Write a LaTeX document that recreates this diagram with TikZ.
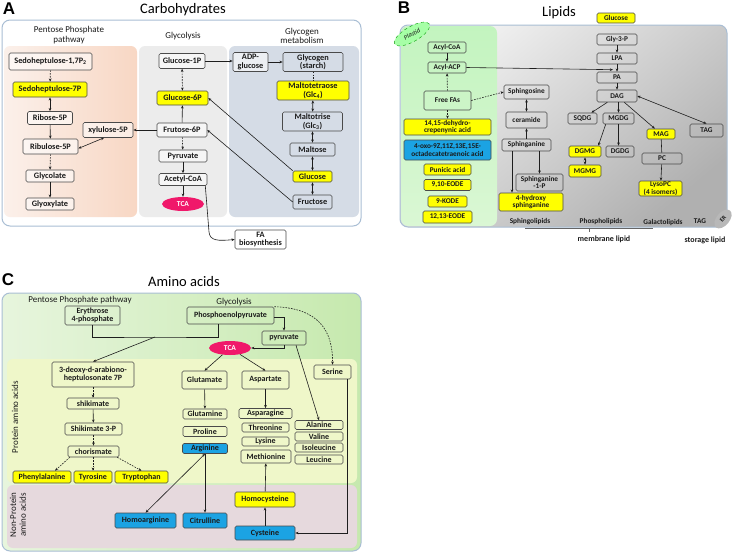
\documentclass[tikz,border=0pt]{standalone}
\usepackage{fontspec}
\setmainfont{Carlito}
\newfontfamily\lsans{Liberation Sans}
\usetikzlibrary{shapes.geometric,arrows.meta}
\definecolor{bordc}{HTML}{4A4A4A}
\definecolor{linec}{HTML}{1E1E1E}
\definecolor{panelb}{HTML}{A9BED4}
\definecolor{yelc}{HTML}{FFFF00}
\definecolor{bluc}{HTML}{1BA3E3}
\definecolor{tcac}{HTML}{F0186A}
\definecolor{peachL}{HTML}{FBF0EA}
\definecolor{peachR}{HTML}{F8D7C4}
\definecolor{glyc}{HTML}{ECECEC}
\definecolor{glgc}{HTML}{D5DCE6}
\definecolor{grayT}{HTML}{F2F2F2}
\definecolor{grayM}{HTML}{DCDCDC}
\definecolor{grayB}{HTML}{B0B0B0}
\definecolor{grnT}{HTML}{C3F4BF}
\definecolor{grnB}{HTML}{DAF7D4}
\definecolor{cgL}{HTML}{E7F5DD}
\definecolor{cgR}{HTML}{C6E9AE}
\definecolor{protc}{HTML}{EFF7C9}
\definecolor{nonpc}{HTML}{E6D9DD}
\definecolor{txtc}{HTML}{1A1A1A}
\begin{document}
\begin{tikzpicture}[x=1pt,y=-1pt,
  bx/.style={draw=bordc, rounded corners=1.5pt, line width=0.6pt, inner sep=0pt, align=center, text=txtc},
  wh/.style 2 args={minimum width=#1pt, minimum height=#2pt},
  yel/.style={fill=yelc},
  blu/.style={fill=bluc},
  wt/.style={fill=white, fill opacity=0.55, text opacity=1},
  ftA/.style={font=\bfseries\fontsize{8.3}{8.5}\selectfont},
  ftB/.style={font=\bfseries\fontsize{7.3}{7.4}\selectfont},
  ftC/.style={font=\bfseries\fontsize{8}{8.3}\selectfont},
  ln/.style={line width=0.6pt, draw=linec},
  arr/.style={ln, -{Stealth[length=3.2pt,width=2.6pt]}},
  darr/.style={ln, {Stealth[length=3.2pt,width=2.6pt]}-{Stealth[length=3.2pt,width=2.6pt]}},
  dsh/.style={dash pattern=on 1.6pt off 1.2pt},
  tca/.style={ellipse, fill=tcac, text=white, inner sep=0pt, font=\bfseries\fontsize{7.5}{8}\selectfont},
  lbl/.style={font=\fontsize{9}{9.6}\selectfont, text=txtc, align=center},
  ttl/.style={font=\fontsize{14.5}{15}\selectfont, text=black},
  plet/.style={font=\lsans\bfseries\fontsize{17}{17}\selectfont},
  panel/.style={draw=panelb, line width=1pt, rounded corners=8pt}
]
\useasboundingbox[fill=white] (0,0) rectangle (733,554);

% ================= Panel A =================
\node[plet] (letA) at (9,9) {A};
\node[ttl] (ttlA) at (183,10) {Carbohydrates};
\fill[white, rounded corners=8pt] (2,20) rectangle (361,226);
\shade[rounded corners=6pt, left color=peachL, right color=peachR] (4,46) rectangle (137,217);
\fill[glyc, rounded corners=6pt] (139,46) rectangle (227,217);
\fill[glgc, rounded corners=6pt] (229,46) rectangle (359,217);
\draw[panel] (2,20) rectangle (361,226);
\node[lbl] (lppp) at (69,35) {Pentose Phosphate\\pathway};
\node[lbl] (lgly) at (183,36) {Glycolysis};
\node[lbl] (lglg) at (302,36) {Glycogen\\metabolism};

\node[bx,ftA,wt,wh={83}{17}] (s17) at (50.5,61.5) {Sedoheptulose-1,7P\textsubscript{2}};
\node[bx,ftA,yel,wh={74}{15}] (s7p) at (50,89.5) {Sedoheptulose-7P};
\node[bx,ftA,wt,wh={45}{13}] (r5p) at (50,118) {Ribose-5P};
\node[bx,ftA,wt,wh={55}{15}] (ru5p) at (50.5,146.5) {Ribulose-5P};
\node[bx,ftA,wt,wh={48}{12}] (glyc) at (50,176) {Glycolate};
\node[bx,ftA,wt,wh={48}{12}] (glyox) at (50,204) {Glyoxylate};
\node[bx,ftA,wt,wh={50}{15}] (x5p) at (108,130) {xylulose-5P};
\node[bx,ftA,wt,wh={46}{15}] (g1p) at (182,61) {Glucose-1P};
\node[bx,ftA,yel,wh={51}{14}] (g6p) at (182.5,98) {Glucose-6P};
\node[bx,ftA,wt,wh={50}{14}] (f6p) at (182,130) {Frutose-6P};
\node[bx,ftA,wt,wh={48}{12}] (pyrA) at (183,156) {Pyruvate};
\node[bx,ftA,wt,wh={48}{12}] (acoa) at (183,179.5) {Acetyl-CoA};
\node[tca,minimum width=42pt,minimum height=14pt] (tcaA) at (183,204) {TCA};
\node[bx,ftA,wt,wh={35}{19}] (adp) at (250.5,62) {ADP-\\glucose};
\node[bx,ftA,wh={60}{19}] (glycogen) at (313,62) {Glycogen\\(starch)};
\node[bx,ftA,yel,wh={72}{19}] (malt4) at (313,90.5) {Maltotetraose\\(Glc\textsubscript{4})};
\node[bx,ftA,wh={60}{19}] (malt3) at (312.5,121.5) {Maltotrise\\(Glc\textsubscript{3})};
\node[bx,ftA,wh={45}{13}] (maltose) at (312.5,149.5) {Maltose};
\node[bx,ftA,yel,wh={39}{11}] (glucA) at (312.5,176.5) {Glucose};
\node[bx,ftA,wh={39}{14}] (fruc) at (312.5,202) {Fructose};
\node[bx,ftA,fill=white,wh={51}{19}] (fab) at (260.5,239.5) {FA\\biosynthesis};

\draw[arr,dsh] (s17) -- (s7p);
\draw[darr] (s7p) -- (r5p);
\draw[arr] (r5p) -- (ru5p);
\draw[darr] ([yshift=-2pt]ru5p.east) -- ([xshift=-4pt]x5p.south);
\draw[arr,dsh] (ru5p) -- (glyc);
\draw[arr] (glyc) -- (glyox);
\draw[arr] (f6p) -- (x5p);
\draw[arr] (g1p.east) -- (g1p.east -| adp.west);
\draw[arr] (adp) -- (glycogen);
\draw[darr,dsh] (g1p) -- (g6p);
\draw[arr] (f6p) -- (g6p);
\draw[arr,dsh] (f6p) -- (pyrA);
\draw[arr] (pyrA) -- (acoa);
\draw[arr] (acoa) -- (tcaA);
\draw[arr] ([xshift=-2pt]acoa.south east) -- (209,232) .. controls (210,241) and (218,241) .. (fab.west);
\draw[ln,dsh] (glycogen) -- (malt4);
\draw[darr] (malt4) -- (malt3);
\draw[darr] (malt3) -- (maltose);
\draw[darr] (maltose) -- (glucA);
\draw[darr] (glucA) -- (fruc);
\draw[arr] (glucA.north west) -- (g6p.east);
\draw[arr] (fruc.west) -- (f6p.east);

% ================= Panel B =================
\node[plet] (letB) at (404,8) {B};
\node[ttl] (ttlB) at (559,13) {Lipids};
\shade[rounded corners=8pt, top color=grayT, middle color=grayM, bottom color=grayB, shading angle=40] (400,25) rectangle (727,227);
\shade[rounded corners=7pt, top color=grnT, bottom color=grnB] (401,26) rectangle (497,226);
\draw[panel] (400,25) rectangle (727,227);
\node[ellipse, draw=green!60!black, dashed, fill=green!35, rotate=30, inner sep=0pt, minimum width=40pt, minimum height=15pt, font=\itshape\fontsize{6.5}{6.5}\selectfont, text=txtc] (plastid) at (412,34) {Plastid};

\node[bx,ftB,wh={38}{11}] (acoa2) at (447,47.5) {Acyl-CoA};
\node[bx,ftB,wh={38}{11}] (acp) at (447,67.5) {Acyl-ACP};
\node[bx,ftB,wh={47}{19}] (ffa) at (447.5,100.5) {Free FAs};
\node[bx,ftB,yel,wh={87}{16}] (dehy) at (447.5,127) {14,15-dehydro-\\crepenynic acid};
\node[bx,ftB,blu,wh={87}{20}] (oxo) at (447.5,150) {4-oxo-9Z,11Z,13E,15E-\\octadecatetraenoic acid};
\node[bx,ftB,yel,wh={47}{11}] (pun) at (447.5,169.5) {Punicic acid};
\node[bx,ftB,yel,wh={47}{11}] (e910) at (447.5,185) {9,10-EODE};
\node[bx,ftB,yel,wh={39}{11}] (kode) at (447.5,201.5) {9-KODE};
\node[bx,ftB,yel,wh={49}{12}] (e1213) at (447.5,217) {12,13-EODE};
\node[bx,ftB,wh={45}{14}] (sphos) at (526.5,92) {Sphingosine};
\node[bx,ftB,wh={41}{16}] (cer) at (526.5,120) {ceramide};
\node[bx,ftB,wh={49}{12}] (sphan) at (526.5,145) {Sphinganine};
\node[bx,ftB,wh={47}{17}] (s1p) at (539.5,182.5) {Sphinganine\\-1-P};
\node[bx,ftB,yel,wh={64}{18}] (hyd) at (531,202) {4-hydroxy\\sphinganine};
\node[bx,ftB,yel,wh={38}{10}] (glcB) at (616,18) {Glucose};
\node[bx,ftB,wh={40}{11}] (g3p) at (617,39.5) {Gly-3-P};
\node[bx,ftB,wh={40}{11}] (lpa) at (617,58.5) {LPA};
\node[bx,ftB,wh={40}{11}] (pa) at (617,77.5) {PA};
\node[bx,ftB,wh={40}{12}] (dag) at (617,96) {DAG};
\node[bx,ftB,wh={29}{11}] (sqdg) at (582.5,118.5) {SQDG};
\node[bx,ftB,wh={31}{11}] (mgdg) at (618.5,118.5) {MGDG};
\node[bx,ftB,yel,wh={28}{10}] (mag) at (661,134) {MAG};
\node[bx,ftB,wh={33}{13}] (tag) at (706.5,130.5) {TAG};
\node[bx,ftB,yel,wh={32}{11}] (dgmg) at (585,151.5) {DGMG};
\node[bx,ftB,wh={28}{11}] (dgdg) at (620,151.5) {DGDG};
\node[bx,ftB,yel,wh={32}{12}] (mgmg) at (585,171) {MGMG};
\node[bx,ftB,wh={40}{11}] (pc) at (662,158.5) {PC};
\node[bx,ftB,yel,wh={43}{15}] (lyso) at (660.5,188.5) {LysoPC\\(4 isomers)};

\draw[arr] (acoa2) -- (acp);
\draw[arr,dsh] (ffa) -- (acp);
\draw[arr,dsh] (ffa) -- (dehy);
\draw[arr,dsh] (ffa.east) -- (sphos.west);
\draw[arr] (acp.east) -- ([xshift=-4pt,yshift=2pt]pa.north);
\draw[arr] (g3p) -- (lpa);
\draw[arr] (lpa) -- (pa);
\draw[arr] (pa) -- (dag);
\draw[arr] (dag) -- (sqdg);
\draw[arr] (dag.south -| mgdg.north) -- (mgdg.north);
\draw[arr] (dag) -- (mag);
\draw[darr] (dag.east) -- (tag.north);
\draw[arr] ([xshift=3pt]mgdg.south west) -- ([xshift=-3pt]dgmg.north east);
\draw[arr] (mgdg.south) -- (mgdg.south |- dgdg.north);
\draw[darr] (dgmg) -- (mgmg);
\draw[ln] (mag) -- (pc);
\draw[arr] (pc) -- (lyso);
\draw[darr] (sphos) -- (cer);
\draw[arr] (sphan) -- (cer);
\draw[arr] (sphan.south -| s1p.north) -- (s1p.north);
\draw[arr] ([xshift=-14.5pt]sphan.south) -- ([xshift=-14.5pt]sphan.south |- hyd.north);

\node[ftB,text=txtc] (lsph) at (530,222) {Sphingolipids};
\node[ftB,text=txtc] (lpho) at (601,222) {Phospholipids};
\node[ftB,text=txtc] (lgal) at (663,223) {Galactolipids};
\node[ftB,text=txtc,inner sep=1pt] (ltag) at (700,221) {TAG};
\node[ellipse, fill=grayB!90, rotate=50, inner sep=0pt, minimum width=22pt, minimum height=13pt, font=\bfseries\fontsize{6}{6}\selectfont, text=txtc] (er) at (723,219) {ER};
\coordinate (brL) at (525,228.5);
\coordinate (brR) at (653,228.5);
\coordinate (brT) at (589,228.5);
\draw[ln, draw=gray!80!black] (brL) -- (brR);
\draw[ln, draw=gray!80!black] (brT) -- ++(0,3.5);
\node[font=\bfseries\fontsize{8}{8}\selectfont, text=txtc, inner sep=1pt] (mem) at (604,239) {membrane lipid};
\node[font=\bfseries\fontsize{8}{8}\selectfont, text=txtc, inner sep=1pt] (sto) at (705,240) {storage lipid};

% ================= Panel C =================
\node[plet] (letC) at (8,280) {C};
\node[ttl] (ttlC) at (184,282) {Amino acids};
\shade[rounded corners=8pt, left color=cgL, right color=cgR] (2,293) rectangle (361,551);
\fill[protc, rounded corners=6pt] (7,359) rectangle (357,483);
\fill[nonpc, rounded corners=6pt] (7,485) rectangle (357,548);
\draw[panel] (2,293) rectangle (361,551);
\node[lbl] (lppC) at (80,300) {Pentose Phosphate pathway};
\node[lbl] (lglC) at (234,302) {Glycolysis};
\node[lbl, rotate=90] (lprot) at (15,417) {Protein amino acids};
\node[lbl, rotate=90, font=\fontsize{9}{9.8}\selectfont] (lnon) at (18,515) {Non-Protein\\amino acids};

\node[bx,ftC,wh={55}{19}] (ery) at (92.5,315.5) {Erythrose\\4-phosphate};
\node[bx,ftC,wh={87}{17}] (pep) at (230.5,315.5) {Phosphoenolpyruvate};
\node[bx,ftC,wh={44}{14}] (pyrC) at (284,338) {pyruvate};
\node[tca,minimum width=42pt,minimum height=14pt] (tcaC) at (230,348) {TCA};
\node[bx,ftC,wh={82}{25}] (dahp) at (93,374.5) {3-deoxy-d-arabiono-\\heptulosonate 7P};
\node[bx,ftC,wh={52}{11}] (shik) at (93,403.5) {shikimate};
\node[bx,ftC,wh={57}{12}] (shik3) at (93.5,429) {Shikimate 3-P};
\node[bx,ftC,wh={51}{11}] (chor) at (93.5,451.5) {chorismate};
\node[bx,ftC,yel,wh={58}{12}] (phe) at (42,477) {Phenylalanine};
\node[bx,ftC,yel,wh={38}{12}] (tyr) at (93,477) {Tyrosine};
\node[bx,ftC,yel,wh={53}{12}] (trp) at (141.5,477) {Tryptophan};
\node[bx,ftC,wh={45}{18}] (glu) at (204.5,380) {Glutamate};
\node[bx,ftC,wh={47}{18}] (asp) at (265.5,380) {Aspartate};
\node[bx,ftC,wh={37}{14}] (ser) at (332.5,372) {Serine};
\node[bx,ftC,wh={44}{10}] (gln) at (205,414) {Glutamine};
\node[bx,ftC,wh={44}{10}] (pro) at (205,431.5) {Proline};
\node[bx,ftC,blu,wh={45}{10}] (arg) at (205,448.5) {Arginine};
\node[bx,ftC,wh={53}{10}] (asn) at (265.5,413.5) {Asparagine};
\node[bx,ftC,wh={47}{9}] (thr) at (265.5,427.5) {Threonine};
\node[bx,ftC,wh={47}{9}] (lys) at (265.5,441.5) {Lysine};
\node[bx,ftC,wh={50}{13}] (met) at (266,456.5) {Methionine};
\node[bx,ftC,wh={48}{9}] (ala) at (319,425) {Alanine};
\node[bx,ftC,wh={48}{9}] (val) at (319,436.5) {Valine};
\node[bx,ftC,wh={48}{9}] (ile) at (319,447.5) {Isoleucine};
\node[bx,ftC,wh={48}{9}] (leu) at (319,459.5) {Leucine};
\node[bx,ftC,yel,wh={60}{15}] (hcy) at (265,499.5) {Homocysteine};
\node[bx,ftC,blu,wh={61}{15}] (harg) at (145.5,520.5) {Homoarginine};
\node[bx,ftC,blu,wh={44}{15}] (cit) at (205,520.5) {Citrulline};
\node[bx,ftC,blu,wh={60}{14}] (cys) at (265,533) {Cysteine};

\coordinate (jn) at (155,337);
\draw[ln] (ery.south) |- (jn) -| ([xshift=-12.5pt]pep.south);
\draw[arr] (jn) -- (dahp.north);
\draw[arr] ([yshift=-2pt]pep.east) -| (pyrC.north);
\draw[arr,dsh] (pep.north east) .. controls (318,308) and (333,330) .. (ser.north);
\draw[arr] (pyrC.south) |- (tcaC.east);
\draw[arr] ([xshift=12pt]pyrC.south) -- (ala.north);
\draw[arr] (tcaC) -- (glu.north);
\draw[arr] (tcaC) -- (asp.north);
\draw[arr] (glu) -- (gln);
\draw[arr] (asp) -- (asn);
\draw[arr,dsh] (dahp) -- (shik);
\draw[arr] (shik) -- (shik3);
\draw[arr,dsh] (shik3) -- (chor);
\draw[arr,dsh] ([xshift=2pt]chor.south west) -- ([xshift=13pt]phe.north);
\draw[arr,dsh] (chor.south -| tyr.north) -- (tyr.north);
\draw[arr,dsh] ([xshift=-2pt]chor.south east) -- (trp.north);
\draw[darr] (arg.south) -- (harg.north);
\draw[arr] (arg.south) -- (cit.north);
\draw[arr] (cys) -- (hcy);
\draw[arr] (hcy) -- (met);
\draw[arr] ([xshift=14.5pt]ser.south) |- (cys.east);
\end{tikzpicture}
\end{document}
